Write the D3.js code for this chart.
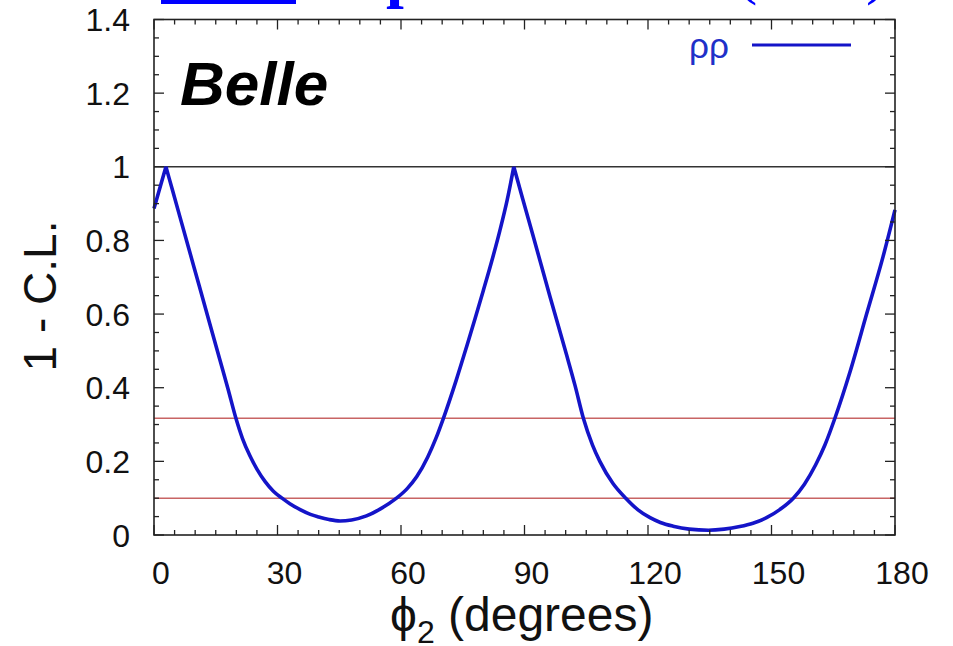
<!DOCTYPE html>
<html>
<head>
<meta charset="utf-8">
<script src="https://cdn.jsdelivr.net/npm/d3@7"></script>
<style>
  html, body { margin: 0; padding: 0; background: #fff; }
  svg { display: block; }
  text { font-family: "Liberation Sans", Arial, Helvetica, sans-serif; }
</style>
</head>
<body>
<svg id="chart" width="953" height="646"></svg>
<script>
// phi2 scan (degrees) and the resulting 1 - C.L. for the rho-rho mode
const phi2 = [0, 2.9, 4.5, 6.3, 8.5, 11, 13.5, 16, 18, 19.9, 21.5, 23.3, 25, 27, 29, 31.1, 33, 35.5, 38, 40, 42.5, 45.2, 48, 51.6, 55, 58.9, 61.5, 63.8, 66.5, 68.5, 70.3, 73.4, 75.9, 78, 80, 82, 84, 85.8, 87.4,
              89.5, 92.1, 96.2, 100.2, 102.3, 104.3, 106.5, 108.3, 111.5, 114.6, 117.5, 120.5, 123, 126.1, 130, 134.7, 138.5, 142.3, 145.5, 148.8, 152, 155.3, 158, 160.7, 163, 165.4, 169.1, 173.1, 177.1, 180];
const oneMinusCL = [0.887, 1.0, 0.936, 0.864, 0.776, 0.676, 0.576, 0.476, 0.396, 0.317, 0.262, 0.215, 0.179, 0.145, 0.119, 0.100, 0.085, 0.069, 0.056, 0.049, 0.042, 0.038, 0.041, 0.052, 0.071, 0.100, 0.126, 0.158, 0.212, 0.263, 0.317, 0.420, 0.510, 0.588, 0.664, 0.742, 0.826, 0.910, 1.0,
                    0.915, 0.812, 0.647, 0.490, 0.405, 0.317, 0.245, 0.200, 0.140, 0.100, 0.069, 0.047, 0.034, 0.024, 0.016, 0.013, 0.016, 0.023, 0.032, 0.047, 0.069, 0.100, 0.138, 0.190, 0.245, 0.317, 0.444, 0.600, 0.756, 0.883];

const xTickValues = [0, 30, 60, 90, 120, 150, 180];
const xTickLabels = ["0", "30", "60", "90", "120", "150", "180"];
const yTickValues = [0, 0.2, 0.4, 0.6, 0.8, 1.0, 1.2, 1.4];
const yTickLabels = ["0", "0.2", "0.4", "0.6", "0.8", "1", "1.2", "1.4"];
const unityLevel = [1.0];
const clLevels = [0.317, 0.1];
const legendLabel = "ρρ";

const svg = d3.select("#chart");
const frame = { left: 154, right: 895, top: 19.5, bottom: 535 };

const x = d3.scaleLinear().domain([0, 180]).range([frame.left, frame.right]);
const y = d3.scaleLinear().domain([0, 1.4]).range([frame.bottom, frame.top]);

// Heading fragments above the plot (only their lowest parts fall on the page)
const head = svg.append("g").attr("fill", "#0000ff");
head.append("rect").attr("x", 161).attr("y", 0).attr("width", 135).attr("height", 4);
head.selectAll("text.head")
  .data([{ t: "p", x: 386, y: -5, w: "bold" }, { t: "(", x: 736, y: -8, w: "normal" }, { t: ")", x: 866, y: -8, w: "normal" }])
  .join("text")
  .attr("class", "head")
  .attr("x", d => d.x).attr("y", d => d.y)
  .style("font-family", "'Liberation Serif', 'Times New Roman', serif")
  .style("font-weight", d => d.w)
  .style("font-size", "64px")
  .text(d => d.t);

// Reference levels
svg.selectAll("line.unity").data(unityLevel).join("line")
  .attr("class", "unity")
  .attr("x1", frame.left).attr("x2", frame.right)
  .attr("y1", d => y(d)).attr("y2", d => y(d))
  .attr("stroke", "#333").attr("stroke-width", 1.5);

svg.selectAll("line.cl").data(clLevels).join("line")
  .attr("class", "cl")
  .attr("x1", frame.left).attr("x2", frame.right)
  .attr("y1", d => y(d)).attr("y2", d => y(d))
  .attr("stroke", "#c86464").attr("stroke-width", 1.6);

// Curve: smooth between the cusps, sharp at the two maxima
const pts = phi2.map((p, i) => [p, oneMinusCL[i]]);
const cusps = [0];
for (let i = 1; i < pts.length - 1; i++) {
  if (pts[i][1] > pts[i - 1][1] && pts[i][1] > pts[i + 1][1]) cusps.push(i);
}
cusps.push(pts.length - 1);
const seg = d3.line().x(d => x(d[0])).y(d => y(d[1])).curve(d3.curveMonotoneX);
const segments = d3.pairs(cusps).map(([a, b]) => pts.slice(a, b + 1));
svg.append("path")
  .attr("fill", "none")
  .attr("stroke", "#1414c8")
  .attr("stroke-width", 3.6)
  .attr("stroke-linejoin", "round")
  .attr("d", segments.map(s => seg(s)).join(""));

// Frame
svg.append("rect")
  .attr("x", frame.left).attr("y", frame.top)
  .attr("width", frame.right - frame.left).attr("height", frame.bottom - frame.top)
  .attr("fill", "none").attr("stroke", "#222").attr("stroke-width", 1.6);

// Inward ticks on all four sides
const ticks = svg.append("g").attr("stroke", "#222").attr("stroke-width", 1.3);
const xMinor = d3.range(0, 181, 5);
const yMinor = d3.range(0, 1.4001, 0.05);
const isMajorX = v => Math.abs(v % 30) < 1e-6;
const isMajorY = v => Math.abs(v / 0.2 - Math.round(v / 0.2)) < 1e-6;
xMinor.forEach(v => {
  const len = isMajorX(v) ? 10 : 5;
  ticks.append("line").attr("x1", x(v)).attr("x2", x(v)).attr("y1", frame.bottom).attr("y2", frame.bottom - len);
  ticks.append("line").attr("x1", x(v)).attr("x2", x(v)).attr("y1", frame.top).attr("y2", frame.top + len);
});
yMinor.forEach(v => {
  const len = isMajorY(v) ? 10 : 5;
  ticks.append("line").attr("y1", y(v)).attr("y2", y(v)).attr("x1", frame.left).attr("x2", frame.left + len);
  ticks.append("line").attr("y1", y(v)).attr("y2", y(v)).attr("x1", frame.right).attr("x2", frame.right - len);
});

// Tick labels
svg.selectAll("text.xt").data(xTickValues).join("text")
  .attr("class", "xt")
  .attr("x", d => x(d) + 7).attr("y", 584)
  .attr("text-anchor", "middle")
  .style("font-size", "32px").attr("fill", "#111")
  .text((d, i) => xTickLabels[i]);

svg.selectAll("text.yt").data(yTickValues).join("text")
  .attr("class", "yt")
  .attr("x", 130).attr("y", d => y(d) + 11.5)
  .attr("text-anchor", "end")
  .style("font-size", "32px").attr("fill", "#111")
  .text((d, i) => yTickLabels[i]);

// Axis titles
const xt = svg.append("text").attr("x", 390).attr("y", 631)
  .style("font-size", "48px").attr("fill", "#111");
xt.append("tspan").text("ϕ");
xt.append("tspan").attr("dy", 12).style("font-size", "32px").text("2");
xt.append("tspan").attr("dy", -12).text(" (degrees)");

svg.append("text")
  .attr("transform", "translate(56,296) rotate(-90)")
  .attr("text-anchor", "middle")
  .style("font-size", "46px").attr("fill", "#111")
  .text("1 - C.L.");

// Experiment tag
svg.append("text").attr("x", 180).attr("y", 105)
  .style("font-size", "62px").style("font-weight", "bold").style("font-style", "italic")
  .attr("fill", "#000")
  .text("Belle");

// Legend
svg.append("text").attr("x", 689).attr("y", 58)
  .style("font-size", "35px").attr("fill", "#2030c8")
  .text(legendLabel);
svg.append("line")
  .attr("x1", 752).attr("x2", 851).attr("y1", 45).attr("y2", 45)
  .attr("stroke", "#1414c8").attr("stroke-width", 3.2);
</script>
</body>
</html>
